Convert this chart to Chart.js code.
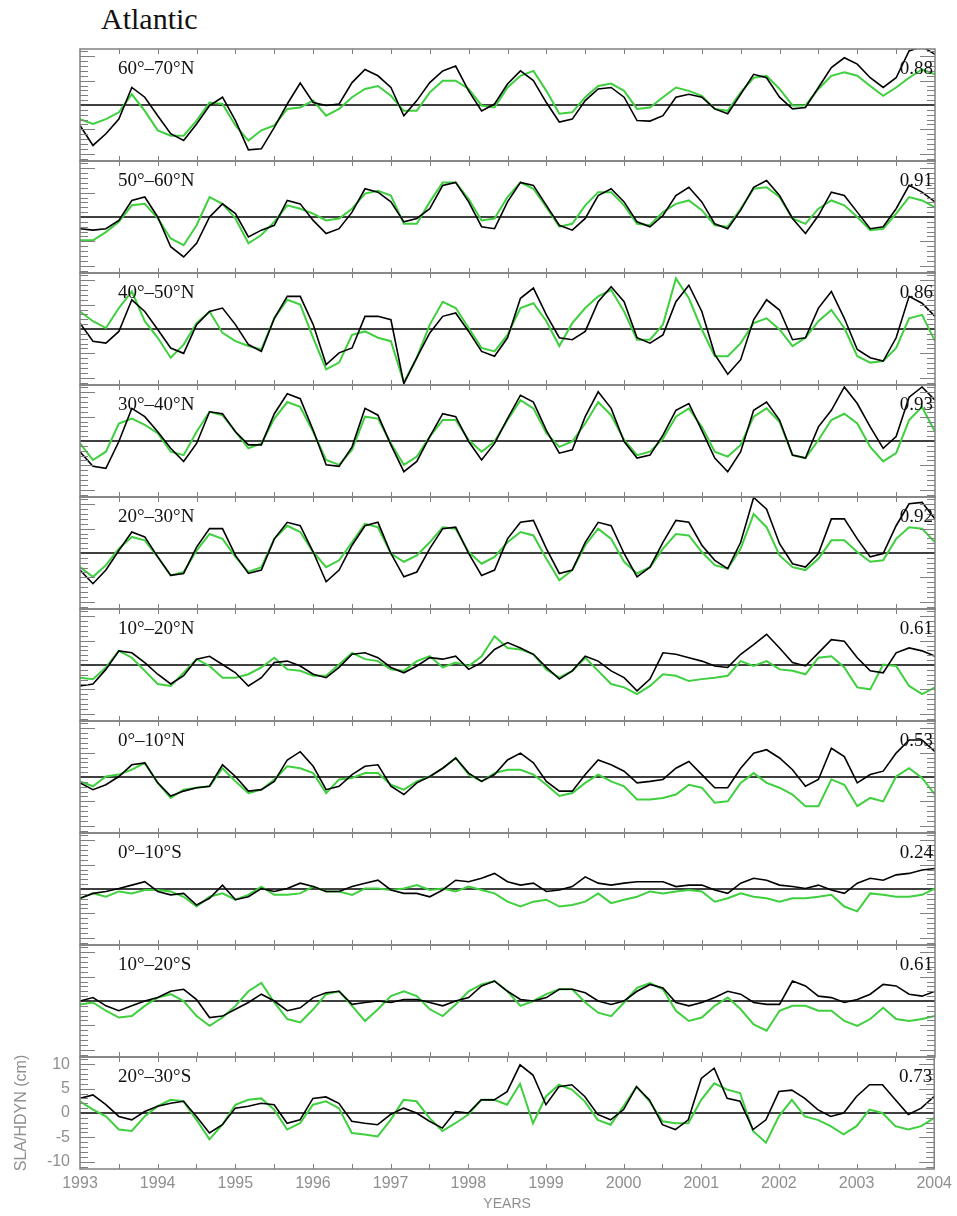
<!DOCTYPE html>
<html>
<head>
<meta charset="utf-8">
<title>Atlantic SLA / HDYN</title>
<script src="https://cdn.jsdelivr.net/npm/chart.js@4.4.1/dist/chart.umd.min.js"></script>
<style>
  html, body { margin: 0; padding: 0; background: #fff; }
  #page { position: relative; width: 957px; height: 1216px; overflow: hidden; }
  #title { position: absolute; left: 101px; top: 2px; font: 30px "Liberation Serif", "Times New Roman", serif; color: #111; }
  canvas { position: absolute; }
</style>
</head>
<body>
<div id="page">
  <div id="title">Atlantic</div>
</div>
<script>
// Values, one value every 2 months from Jan 1993 to Jan 2004 (cm)
const startYear = 1993;
const stepMonths = 2;

const sla_60_70N = [-4.2,-8.3,-5.9,-2.9,3.6,1.6,-2.2,-5.9,-7.3,-3.9,-0.1,1.6,-3.2,-9.2,-9.0,-4.6,0.2,4.5,0.5,-0.1,0.2,4.6,7.3,6.0,3.6,-2.2,0.9,4.6,7.0,8.0,2.9,-1.2,0.2,4.3,7.0,5.0,0.5,-3.5,-2.9,0.9,3.3,3.6,1.6,-3.2,-3.3,-2.2,1.6,2.2,1.6,-0.8,-1.8,2.2,6.3,5.6,1.6,-0.8,-0.5,3.6,7.7,9.7,8.4,5.6,3.6,5.6,11.1,12.0,10.4];
const hdyn_60_70N = [-2.9,-3.9,-2.9,-1.5,2.2,-1.2,-5.2,-6.3,-6.3,-3.2,0.5,0.2,-4.2,-7.3,-5.2,-4.2,-0.8,-0.5,0.9,-2.2,-0.8,1.6,3.3,3.9,1.9,-1.2,-1.2,2.6,5.0,5.0,3.3,-0.1,-0.5,3.6,6.0,7.0,2.9,-1.8,-1.5,1.6,3.9,4.4,2.9,-0.8,-0.5,1.6,3.6,2.9,1.9,-0.8,-1.2,2.6,5.6,6.0,3.3,-0.1,-0.1,3.3,6.0,6.7,6.0,3.9,1.9,3.6,5.6,7.3,6.3];

const sla_50_60N = [-2.4,-2.7,-2.4,-0.7,3.4,4.1,0,-6.1,-8.2,-5.4,0,2.7,0.7,-4.1,-2.7,-1.7,3.4,2.7,-0.7,-3.4,-2.4,1.0,5.8,5.1,3.1,-1.0,-0.3,1.7,6.5,7.1,3.1,-2.0,-2.4,3.1,7.1,6.5,2.4,-1.7,-2.7,-0.3,4.4,5.8,3.1,-1.0,-2.0,0.3,4.4,6.1,3.1,-1.4,-2.4,1.4,6.1,7.5,4.4,-0.3,-3.4,0.3,5.1,4.4,1.0,-2.4,-2.0,1.7,6.5,5.1,3.1];
const hdyn_50_60N = [-4.8,-4.8,-3.1,-1.0,2.4,2.7,-0.3,-4.4,-5.8,-1.7,4.1,2.7,-0.3,-5.4,-3.7,-1.0,2.4,1.7,0.7,-0.7,-0.3,1.7,4.8,5.4,4.4,-1.4,-1.4,3.1,7.1,7.1,3.7,-0.7,-0.3,4.1,7.1,5.8,2.0,-2.0,-1.4,2.4,5.1,5.1,2.4,-1.4,-1.7,1.0,2.7,3.4,1.4,-1.7,-2.0,1.7,5.8,6.1,4.1,-0.3,-1.4,1.7,3.4,2.4,0,-2.7,-2.4,0.7,4.1,3.4,2.0];

const sla_40_50N = [1.2,-2.5,-2.9,-0.5,6.0,3.6,-0.1,-3.9,-5.0,0.9,3.6,4.3,0.9,-3.2,-4.6,2.2,6.7,6.7,0.9,-7.3,-4.9,-3.9,2.6,2.6,1.9,-11.2,-5.9,-0.8,2.6,3.3,-0.5,-4.6,-5.6,-1.8,6.3,8.4,2.9,-1.8,-2.2,-0.5,5.6,8.7,5.6,-1.8,-2.9,-1.2,5.6,9.0,3.6,-5.2,-9.3,-6.3,1.9,6.0,3.9,-2.2,-1.8,4.3,7.7,2.2,-4.2,-5.9,-6.6,-1.8,6.7,5.3,2.6];
const hdyn_40_50N = [3.6,1.6,0.2,4.3,7.7,1.6,-1.8,-5.9,-3.2,1.2,3.6,-0.8,-2.5,-3.5,-4.2,2.2,6.0,5.0,-1.8,-8.3,-6.9,-1.2,-0.5,-1.8,-2.5,-11.0,-5.9,0.9,5.6,4.3,0.2,-3.9,-4.6,-1.2,4.3,5.3,1.6,-3.5,1.2,4.3,6.7,8.0,3.6,-2.2,-2.2,0.9,10.4,6.3,-0.1,-5.6,-5.6,-2.9,1.2,2.2,-0.1,-3.5,-1.8,1.6,3.9,0.2,-5.6,-6.9,-6.6,-3.9,2.2,2.9,-2.5];

const sla_30_40N = [-2.2,-5.2,-5.6,-0.1,6.7,5.0,1.9,-1.5,-4.2,-0.5,6.0,5.6,1.9,-0.8,-0.8,5.6,9.7,8.7,2.2,-4.9,-5.2,-1.2,6.7,5.3,-0.8,-6.3,-4.2,0.9,5.6,5.0,-0.1,-3.9,-0.5,4.6,9.4,8.0,2.2,-2.5,-1.8,5.0,10.1,6.7,-0.1,-3.5,-2.9,1.2,6.3,7.7,2.2,-3.5,-6.3,-2.2,6.3,8.0,4.3,-2.9,-3.5,2.9,6.3,11.1,7.7,2.9,-1.5,0.9,9.0,11.1,8.4];
const hdyn_30_40N = [-0.5,-3.9,-2.2,3.6,4.6,3.3,1.6,-2.2,-2.9,1.9,6.0,5.3,1.9,-1.5,-0.5,4.6,8.0,7.0,1.9,-3.9,-4.9,-1.8,5.0,4.6,-0.5,-4.9,-3.2,0.9,4.3,4.3,0.2,-2.2,-0.1,4.3,8.4,6.7,1.6,-1.2,-0.1,3.6,8.0,5.3,0.2,-2.9,-2.2,0.5,5.0,6.7,2.9,-2.2,-3.2,-0.8,5.0,6.7,3.9,-2.9,-3.5,0.2,4.3,5.6,3.6,-1.2,-4.2,-2.5,4.3,7.0,1.9];

const sla_20_30N = [-3.5,-6.3,-3.5,0.5,4.3,3.3,-0.8,-4.6,-4.2,1.2,5.0,5.0,-0.5,-4.2,-3.5,2.9,6.3,5.6,0.2,-5.9,-3.5,1.6,5.6,6.3,-0.1,-4.9,-3.9,0.9,5.0,5.3,-0.1,-4.6,-3.5,2.9,6.3,6.7,0.9,-4.2,-3.5,2.2,6.3,5.6,-0.1,-4.9,-2.9,2.2,6.7,6.3,1.6,-1.5,-3.2,2.2,11.4,9.0,1.9,-2.2,-2.9,-0.1,7.0,7.0,2.9,-0.8,-0.1,5.6,10.1,10.4,7.0];
const hdyn_20_30N = [-2.9,-4.9,-2.5,0.9,3.3,2.6,-0.8,-4.6,-3.9,0.5,3.9,2.9,-0.8,-3.9,-2.9,2.9,5.6,4.3,0.2,-2.9,-1.5,2.2,6.0,5.3,-0.1,-1.8,-0.5,2.2,5.3,5.0,0.2,-2.2,-0.8,2.2,4.3,3.6,-1.2,-5.6,-3.5,1.6,5.0,2.9,-1.8,-4.2,-2.9,0.9,3.9,3.6,0.2,-2.5,-3.2,0.9,8.0,5.3,-0.5,-2.9,-3.5,-1.2,2.6,2.6,0.2,-1.8,-1.5,2.9,5.3,5.0,2.2];

const sla_10_20N = [-4.3,-3.9,-0.9,2.9,2.5,0.5,-1.9,-3.9,-2.2,1.2,1.8,0.1,-1.6,-4.3,-2.6,0.5,0.8,-0.2,-1.9,-2.6,-0.5,2.2,2.5,1.5,-0.5,-1.6,-0.2,1.5,1.2,1.8,-0.9,0.5,3.2,4.6,3.5,2.2,-0.5,-2.9,-1.2,1.8,0.8,-1.2,-2.6,-5.3,-2.9,2.5,2.2,1.5,0.8,-0.2,-0.5,2.2,4.2,6.3,3.5,0.5,-0.2,2.5,5.2,4.9,1.5,-1.2,-1.6,2.5,3.5,2.9,1.8];
const hdyn_10_20N = [-2.6,-2.9,-0.5,2.9,1.5,-1.2,-3.9,-4.3,-1.6,1.2,-0.2,-2.6,-2.6,-1.9,-0.5,1.5,-0.9,-1.2,-2.2,-2.2,0.1,2.5,1.2,0.8,-0.9,-1.2,0.8,1.8,-0.5,0.5,-0.2,1.8,5.9,3.5,3.2,2.2,-0.9,-2.6,-1.2,1.5,-1.2,-3.9,-4.6,-6.0,-4.3,-1.9,-2.2,-3.3,-2.9,-2.6,-2.2,0.8,-0.2,0.8,-0.9,-1.2,-1.9,1.5,1.8,-0.5,-4.6,-5.0,0.1,-0.2,-4.3,-6.0,-4.6];

const sla_00_10N = [-1.2,-2.6,-1.6,0.1,2.5,2.9,-1.2,-3.9,-2.9,-2.2,-1.9,2.5,0.1,-2.9,-2.6,-0.9,3.5,5.2,2.2,-2.6,-1.9,0.5,2.2,2.5,-1.9,-3.6,-1.2,0.1,1.8,3.9,0.8,-0.9,0.5,3.5,4.9,2.9,-0.9,-2.9,-2.9,0.5,3.5,2.5,1.2,-1.2,-0.9,-0.5,1.8,3.2,0.5,-2.2,-2.2,1.8,4.9,5.6,3.9,1.5,-1.9,-0.5,5.9,4.2,-1.2,0.5,1.2,4.9,7.6,7.6,5.2];
const hdyn_00_10N = [-0.9,-1.9,0.1,0.5,1.5,2.9,-1.2,-4.3,-2.6,-2.2,-1.9,1.8,-0.9,-3.3,-2.6,-0.5,2.2,1.8,0.8,-3.3,-0.5,-0.2,0.8,0.8,-1.6,-2.6,-0.9,0.1,1.8,3.9,0.5,-0.9,0.8,1.5,1.5,0.5,-1.6,-3.9,-3.3,-1.2,0.5,-0.9,-1.9,-4.6,-4.6,-4.3,-3.6,-1.6,-2.2,-5.3,-5.0,-1.2,0.8,-1.2,-2.2,-3.6,-6.0,-6.0,-0.5,-1.6,-6.0,-4.3,-5.0,0.1,1.8,-0.2,-3.6];

const sla_00_10S = [-1.9,-0.9,-0.5,0.1,0.8,1.5,-0.5,-1.2,-0.9,-3.3,-1.9,0.8,-2.2,-1.6,0.1,-0.5,0.1,1.2,0.5,-0.5,-0.5,0.5,1.2,1.8,-0.2,-0.9,-0.9,-1.6,-0.2,1.8,1.5,2.2,3.2,1.5,0.8,1.2,-0.5,-0.2,0.5,2.5,1.2,0.8,1.2,1.5,1.5,1.5,0.5,0.8,0.8,-0.2,-0.9,1.2,2.2,1.8,0.8,0.5,0.1,0.8,-0.2,-0.9,1.2,2.2,1.8,2.9,3.2,3.9,4.2];
const hdyn_00_10S = [-1.9,-0.9,-1.6,-0.5,-0.9,-0.2,-0.2,-0.5,-1.6,-3.6,-1.6,-0.9,-2.2,-1.2,0.5,-1.2,-1.2,-0.9,0.5,-0.5,-0.5,-1.2,0.1,0.1,-0.2,0.1,0.8,-0.2,0.1,-0.5,0.5,-0.2,-0.9,-2.6,-3.6,-2.6,-2.2,-3.6,-3.3,-2.6,-0.9,-2.9,-2.2,-1.6,-0.5,-0.9,-0.5,-0.2,-0.5,-2.6,-1.9,-0.9,-1.6,-1.9,-2.6,-1.9,-1.9,-1.6,-1.2,-3.6,-4.6,-0.9,-1.2,-1.6,-1.6,-1.2,0.1];

const sla_10_20S = [0,0.7,-1.0,-2.0,-1.0,0,0.7,2.0,2.4,0.3,-3.4,-3.1,-1.7,-0.3,1.4,0,-2.0,-1.4,0.7,1.7,2.0,-0.7,-0.3,0,-0.3,0.3,0.3,-0.3,-1.0,0,0.7,3.1,4.1,2.0,0.3,0,0.7,2.4,2.4,1.7,0,-0.7,0,2.0,3.4,2.7,-0.3,-1.0,-0.3,0.7,2.0,1.4,-0.3,-0.7,-0.7,4.1,3.1,1.0,0.7,-0.3,0.3,1.4,3.4,3.1,1.4,1.0,2.0];
const hdyn_10_20S = [-0.7,-0.3,-2.0,-3.4,-3.1,-1.0,0.7,1.4,0,-3.1,-5.1,-3.4,-1.0,2.0,3.7,-0.3,-3.7,-4.4,-1.7,1.4,2.0,-1.0,-4.1,-1.7,1.0,2.0,1.0,-1.7,-3.1,-0.7,2.0,3.4,4.1,2.0,-1.0,0,1.4,2.4,2.4,-0.3,-2.4,-3.1,-0.3,2.7,3.7,2.4,-2.0,-4.1,-3.4,-1.0,0.7,-1.7,-4.8,-6.1,-2.0,-1.0,-1.0,-2.0,-2.0,-4.1,-5.1,-3.7,-1.4,-3.7,-4.1,-3.7,-3.1];

const sla_20_30S = [3.0,3.7,1.7,-0.7,-1.4,0.3,1.4,2.0,2.4,-0.7,-4.1,-2.4,1.0,1.4,2.0,1.7,-2.1,-1.4,3.0,3.3,2.0,-1.7,-2.1,-2.4,-0.3,1.0,0,-1.7,-3.1,0.3,0,2.7,2.7,4.4,9.9,7.8,1.7,5.4,5.8,3.4,-0.3,-1.4,0.7,5.4,2.7,-2.4,-3.4,-1.4,7.1,9.2,3.0,2.4,-3.4,-1.4,4.4,4.7,3.0,0.7,-0.7,0,3.4,5.8,5.8,2.7,-0.3,1.0,3.4];
const hdyn_20_30S = [2.4,0.7,-0.7,-3.4,-3.7,-0.7,1.4,2.7,2.4,-1.4,-5.4,-2.4,1.7,2.7,3.0,0.7,-3.4,-2.1,1.7,2.4,1.0,-4.1,-4.4,-4.8,-1.4,2.7,2.4,-1.0,-3.7,-2.1,-0.3,2.7,2.7,1.7,6.0,-2.1,3.4,5.8,4.8,2.4,-1.4,-2.4,1.4,5.4,2.4,-1.7,-2.1,-2.1,2.7,6.1,4.8,4.1,-3.7,-6.1,-0.7,2.7,-0.7,-1.4,-2.7,-4.4,-2.7,0.7,0,-2.7,-3.4,-2.7,-1.0];

const regions = ['60°–70°N', '50°–60°N', '40°–50°N', '30°–40°N', '20°–30°N',
                 '10°–20°N', '0°–10°N', '0°–10°S', '10°–20°S', '20°–30°S'];
const correlations = ['0.88', '0.91', '0.86', '0.93', '0.92', '0.61', '0.53', '0.24', '0.61', '0.73'];
const slaSeries = [sla_60_70N, sla_50_60N, sla_40_50N, sla_30_40N, sla_20_30N,
                   sla_10_20N, sla_00_10N, sla_00_10S, sla_10_20S, sla_20_30S];
const hdynSeries = [hdyn_60_70N, hdyn_50_60N, hdyn_40_50N, hdyn_30_40N, hdyn_20_30N,
                    hdyn_10_20N, hdyn_00_10N, hdyn_00_10S, hdyn_10_20S, hdyn_20_30S];

const yearTicks = [1993, 1994, 1995, 1996, 1997, 1998, 1999, 2000, 2001, 2002, 2003, 2004];
const cmTicks = [-10, -5, 0, 5, 10];

const X_MIN = 1993, X_MAX = 2004, Y_LIM = 11.5;
const PANEL_TOP = 49, PANEL_H = 112;
const FRAME = '#808080';
const LABEL_GRAY = '#8f8f8f';
const SANS = '"Liberation Sans", Arial, sans-serif';

// frame with inward ticks, region + correlation labels
const panelFrame = {
  id: 'panelFrame',
  afterDraw(chart, args, opts) {
    const { ctx, chartArea: a, scales: { x, y } } = chart;
    ctx.save();
    ctx.strokeStyle = FRAME;
    ctx.lineWidth = 1;
    ctx.beginPath();
    for (let v = -11; v <= 11; v++) {
      if (v === 0) continue;
      const py = Math.round(y.getPixelForValue(v)) + 0.5;
      const len = v % 5 === 0 ? 15 : 8;
      ctx.moveTo(a.left, py); ctx.lineTo(a.left + len, py);
      ctx.moveTo(a.right, py); ctx.lineTo(a.right - len, py);
    }
    for (let t = X_MIN + 0.5; t < X_MAX; t += 0.5) {
      const px = Math.round(x.getPixelForValue(t)) + 0.5;
      ctx.moveTo(px, a.top); ctx.lineTo(px, a.top + 5);
      ctx.moveTo(px, a.bottom); ctx.lineTo(px, a.bottom - 5);
    }
    ctx.stroke();
    ctx.lineWidth = 1.5;
    ctx.strokeRect(a.left, a.top, a.right - a.left, a.bottom - a.top);

    ctx.fillStyle = '#111';
    ctx.font = '19px "Liberation Serif", "Times New Roman", serif';
    ctx.textBaseline = 'alphabetic';
    ctx.textAlign = 'left';
    ctx.fillText(opts.region, a.left + 38, a.top + 25);
    ctx.textAlign = 'right';
    ctx.fillText(opts.corr, a.right - 2, a.top + 25);
    ctx.restore();
  }
};

const page = document.getElementById('page');
const toPoints = arr => arr.map((v, i) => ({ x: startYear + i * stepMonths / 12, y: v }));

regions.forEach((region, k) => {
  const isLast = k === regions.length - 1;
  const canvas = document.createElement('canvas');
  let box, padding;
  if (isLast) {
    box = { left: 0, top: 1030, width: 957, height: 186 };
    padding = { left: 0, right: 22, top: 27, bottom: 0 };
  } else {
    box = { left: 70, top: PANEL_TOP + k * PANEL_H - 6, width: 876, height: PANEL_H + 12 };
    padding = { left: 10, right: 11, top: 6, bottom: 6 };
  }
  canvas.width = box.width;
  canvas.height = box.height;
  canvas.style.left = box.left + 'px';
  canvas.style.top = box.top + 'px';
  page.appendChild(canvas);

  new Chart(canvas.getContext('2d'), {
    type: 'line',
    data: {
      datasets: [
        { label: 'SLA', data: toPoints(slaSeries[k]), borderColor: '#000', borderWidth: 1.6,
          pointRadius: 0, tension: 0, fill: false, order: 1 },
        { label: 'HDYN', data: toPoints(hdynSeries[k]), borderColor: '#3fcf3f', borderWidth: 2,
          pointRadius: 0, tension: 0, fill: false, order: 2 },
        { label: 'zero', data: [{ x: X_MIN, y: 0 }, { x: X_MAX, y: 0 }], borderColor: '#000',
          borderWidth: 1.5, pointRadius: 0, fill: false, order: 3 }
      ]
    },
    options: {
      responsive: false,
      animation: false,
      events: [],
      layout: { padding },
      plugins: {
        legend: { display: false },
        tooltip: { enabled: false },
        panelFrame: { region, corr: correlations[k] }
      },
      scales: {
        x: {
          type: 'linear',
          min: X_MIN,
          max: X_MAX,
          display: isLast,
          grid: { display: false, drawTicks: false },
          border: { display: false },
          afterBuildTicks: s => { s.ticks = yearTicks.map(v => ({ value: v })); },
          afterFit: s => { if (isLast) s.height = 47; },
          ticks: {
            autoSkip: false, maxRotation: 0, padding: 5,
            color: LABEL_GRAY, font: { family: SANS, size: 16 },
            callback: v => String(v)
          },
          title: {
            display: true, text: 'YEARS', color: LABEL_GRAY,
            font: { family: SANS, size: 14 }, padding: { top: 0, bottom: 3 }
          }
        },
        y: {
          min: -Y_LIM,
          max: Y_LIM,
          display: isLast,
          grid: { display: false, drawTicks: false },
          border: { display: false },
          afterBuildTicks: s => { s.ticks = cmTicks.map(v => ({ value: v })); },
          afterFit: s => { if (isLast) s.width = 80; },
          ticks: {
            padding: 10, color: LABEL_GRAY, font: { family: SANS, size: 16 },
            callback: v => String(v)
          },
          title: {
            display: true, text: 'SLA/HDYN (cm)', color: LABEL_GRAY,
            font: { family: SANS, size: 16 }, padding: { top: 12, bottom: 0 }
          }
        }
      }
    },
    plugins: [panelFrame]
  });
});
</script>
</body>
</html>
